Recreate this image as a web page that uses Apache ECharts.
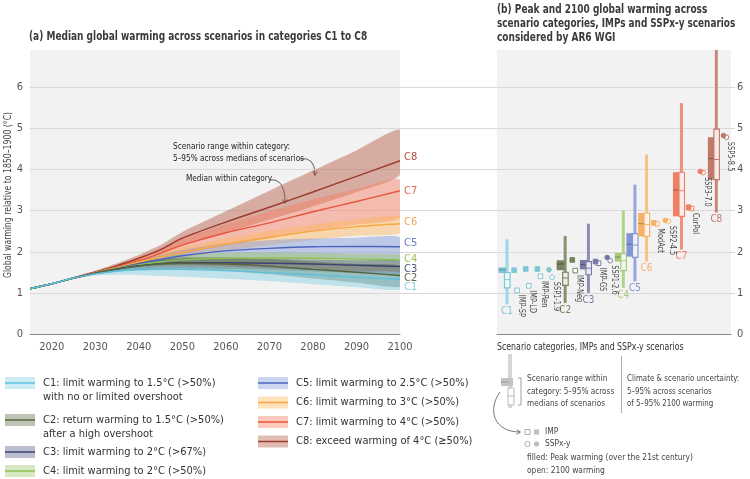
<!DOCTYPE html>
<html>
<head>
<meta charset="UTF-8">
<title>Global warming across scenario categories</title>
<script src="https://cdn.jsdelivr.net/npm/echarts@6/dist/echarts.min.js"></script>
<style>
  html, body { margin: 0; padding: 0; background: #fff; }
  #main { width: 750px; height: 479px; }
</style>
</head>
<body>
<div id="main"></div>
<script>
// ---- (a) median warming and 5-95% range per category ----
var years = [2015, 2020, 2025, 2030, 2035, 2040, 2045, 2050, 2060, 2070, 2080, 2090, 2100];
var categories = ['C1', 'C2', 'C3', 'C4', 'C5', 'C6', 'C7', 'C8'];

var medC1 = [1.10, 1.22, 1.36, 1.46, 1.53, 1.56, 1.57, 1.57, 1.54, 1.49, 1.44, 1.38, 1.33];
var loC1  = [1.10, 1.21, 1.34, 1.42, 1.44, 1.43, 1.41, 1.39, 1.34, 1.28, 1.21, 1.14, 1.08];
var hiC1  = [1.11, 1.23, 1.38, 1.50, 1.60, 1.65, 1.67, 1.67, 1.64, 1.60, 1.56, 1.52, 1.49];

var medC2 = [1.10, 1.22, 1.36, 1.48, 1.58, 1.65, 1.70, 1.72, 1.70, 1.65, 1.57, 1.50, 1.42];
var loC2  = [1.10, 1.21, 1.34, 1.44, 1.51, 1.56, 1.58, 1.58, 1.53, 1.45, 1.35, 1.25, 1.15];
var hiC2  = [1.11, 1.23, 1.38, 1.52, 1.65, 1.75, 1.82, 1.86, 1.86, 1.82, 1.76, 1.70, 1.65];

var medC3 = [1.10, 1.22, 1.36, 1.48, 1.58, 1.66, 1.71, 1.73, 1.73, 1.72, 1.70, 1.67, 1.64];
var loC3  = [1.10, 1.21, 1.34, 1.45, 1.52, 1.57, 1.59, 1.60, 1.58, 1.56, 1.52, 1.48, 1.45];
var hiC3  = [1.11, 1.23, 1.38, 1.51, 1.63, 1.74, 1.80, 1.83, 1.84, 1.83, 1.81, 1.79, 1.78];

var medC4 = [1.10, 1.22, 1.36, 1.48, 1.59, 1.68, 1.75, 1.80, 1.84, 1.85, 1.84, 1.82, 1.80];
var loC4  = [1.10, 1.21, 1.34, 1.45, 1.54, 1.61, 1.65, 1.68, 1.70, 1.69, 1.67, 1.65, 1.63];
var hiC4  = [1.11, 1.23, 1.38, 1.51, 1.64, 1.76, 1.86, 1.93, 1.97, 1.98, 1.97, 1.95, 1.92];

var medC5 = [1.10, 1.22, 1.36, 1.48, 1.60, 1.71, 1.81, 1.90, 2.02, 2.08, 2.12, 2.13, 2.12];
var loC5  = [1.10, 1.21, 1.34, 1.45, 1.55, 1.63, 1.70, 1.75, 1.82, 1.84, 1.84, 1.82, 1.80];
var hiC5  = [1.11, 1.23, 1.38, 1.51, 1.65, 1.79, 1.92, 2.04, 2.20, 2.28, 2.32, 2.34, 2.35];

var medC6 = [1.10, 1.22, 1.36, 1.49, 1.62, 1.75, 1.87, 1.98, 2.18, 2.35, 2.50, 2.61, 2.68];
var loC6  = [1.10, 1.21, 1.34, 1.46, 1.57, 1.67, 1.76, 1.85, 2.02, 2.16, 2.29, 2.39, 2.45];
var hiC6  = [1.11, 1.23, 1.38, 1.52, 1.67, 1.82, 1.96, 2.10, 2.32, 2.50, 2.66, 2.78, 2.86];

var medC7 = [1.10, 1.22, 1.36, 1.49, 1.63, 1.78, 1.96, 2.16, 2.46, 2.70, 2.97, 3.22, 3.48];
var loC7  = [1.10, 1.21, 1.34, 1.46, 1.57, 1.68, 1.80, 1.94, 2.15, 2.32, 2.50, 2.66, 2.82];
var hiC7  = [1.11, 1.23, 1.38, 1.52, 1.68, 1.87, 2.08, 2.32, 2.66, 2.98, 3.27, 3.52, 3.75];

var medC8 = [1.10, 1.22, 1.36, 1.50, 1.66, 1.84, 2.05, 2.33, 2.72, 3.08, 3.45, 3.83, 4.21];
var loC8  = [1.10, 1.21, 1.34, 1.47, 1.61, 1.78, 1.95, 2.16, 2.45, 2.78, 3.10, 3.45, 3.87];
var hiC8  = [1.11, 1.23, 1.38, 1.54, 1.72, 1.92, 2.16, 2.48, 2.98, 3.48, 3.97, 4.46, 4.96];

// ---- (b) peak and 2100 warming per category ----
var slots = ['C1', 'IMP-SP', 'IMP-LD', 'IMP-Ren', 'SSP1-1.9', 'C2', 'IMP-Neg', 'C3', 'IMP-GS', 'SSP1-2.6',
             'C4', 'C5', 'C6', 'ModAct', 'SSP2-4.5', 'C7', 'CurPol', 'SSP3-7.0', 'C8', 'SSP5-8.5'];
var rangeLo = [0.72, 0.75, 1.00, 1.12, 1.28, 1.76, 2.05, 2.95];
var rangeHi = [2.30, 2.38, 2.68, 3.00, 3.63, 4.36, 5.61, 6.90];
var peakLo  = [1.48, 1.55, 1.57, 1.76, 1.88, 2.37, 2.86, 3.75];
var peakMed = [1.56, 1.70, 1.69, 1.87, 2.18, 2.68, 3.50, 4.26];
var peakHi  = [1.62, 1.79, 1.80, 1.97, 2.45, 2.94, 3.93, 4.78];
var endLo   = [1.12, 1.18, 1.44, 1.54, 1.86, 2.37, 2.86, 3.75];
var endMed  = [1.32, 1.36, 1.60, 1.78, 2.16, 2.66, 3.48, 4.24];
var endHi   = [1.49, 1.50, 1.76, 1.95, 2.44, 2.94, 3.93, 4.98];

var scenarios    = ['IMP-SP', 'IMP-LD', 'IMP-Ren', 'SSP1-1.9', 'IMP-Neg', 'IMP-GS', 'SSP1-2.6', 'ModAct', 'SSP2-4.5', 'CurPol', 'SSP3-7.0', 'SSP5-8.5'];
var scenarioCat  = ['C1', 'C1', 'C1', 'C1', 'C2', 'C3', 'C3', 'C6', 'C6', 'C7', 'C7', 'C8'];
var scenarioPeak = [1.55, 1.58, 1.58, 1.56, 1.80, 1.76, 1.86, 2.70, 2.76, 3.08, 3.95, 4.82];
var scenario2100 = [1.06, 1.17, 1.40, 1.38, 1.54, 1.72, 1.78, 2.68, 2.74, 3.05, 3.92, 4.78];

var legendText = [
  'C1: limit warming to 1.5°C (>50%)\nwith no or limited overshoot',
  'C2: return warming to 1.5°C (>50%)\nafter a high overshoot',
  'C3: limit warming to 2°C (>67%)',
  'C4: limit warming to 2°C (>50%)',
  'C5: limit warming to 2.5°C (>50%)',
  'C6: limit warming to 3°C (>50%)',
  'C7: limit warming to 4°C (>50%)',
  'C8: exceed warming of 4°C (≥50%)'
];

// styles
var FONT = "'Liberation Sans Narrow', 'DejaVu Sans Condensed', 'Roboto', sans-serif";
var bandColor  = ['#80cee2', '#5c6a46', '#545c88', '#96c664', '#7890da', '#ffb458', '#f58062', '#b8604a'];
var bandAlpha  = [0.45, 0.45, 0.45, 0.45, 0.42, 0.45, 0.47, 0.47];
var lineColor  = ['#5cc0dc', '#56633f', '#3c4373', '#8cc152', '#4a64c0', '#f7a743', '#e8553f', '#9c3a2c'];
var labelColor = ['#86cde0', '#5f6b52', '#4d5377', '#9cc25e', '#6b7fc6', '#f2a65a', '#e5645a', '#b04a3e'];
var labelShift = [8, 3, 3, -1, -4, -2, 0, -4];
var boxColor   = ['#7fc6d4', '#76815f', '#777ba3', '#a6c97b', '#8396d4', '#f7b26a', '#ec7f66', '#c0786a'];
var whiskColor = ['#9ad6e6', '#87926f', '#8a8db4', '#b3d38d', '#97a6dd', '#f9c184', '#f08f78', '#c9887a'];
var legendPos  = [[5, 383], [5, 420], [5, 452], [5, 471], [258, 383], [258, 402.5], [258, 422], [258, 441.5]];

var median = [medC1, medC2, medC3, medC4, medC5, medC6, medC7, medC8];
var lower  = [loC1, loC2, loC3, loC4, loC5, loC6, loC7, loC8];
var upper  = [hiC1, hiC2, hiC3, hiC4, hiC5, hiC6, hiC7, hiC8];

var myChart = echarts.init(document.getElementById('main'));

// text helper; sx squeezes the glyphs a little to mimic the condensed face of the original
function txt(x, y, text, size, color, weight, sx, extra) {
  var el = {
    type: 'text', x: x, y: y, silent: true, scaleX: sx || 1,
    style: {
      text: text, fill: color || '#333',
      font: (weight || 'normal') + ' ' + size + 'px ' + FONT,
      textAlign: 'left', textVerticalAlign: 'middle', align: 'left', verticalAlign: 'middle'
    }
  };
  if (extra) { for (var k in extra) { el[k] = extra[k]; } }
  return el;
}

var series = [];

// 5-95% bands as polygons: upper edge forward, lower edge back
series.push({
  type: 'custom', xAxisIndex: 0, yAxisIndex: 0, silent: true, clip: true, z: 2,
  data: [7, 6, 5, 4, 3, 2, 1, 0].map(function (i) { return [i]; }),
  renderItem: function (params, api) {
    var i = api.value(0);
    var pts = [];
    for (var k = 0; k < years.length; k++) { pts.push(api.coord([years[k], upper[i][k]])); }
    for (var m = years.length - 1; m >= 0; m--) { pts.push(api.coord([years[m], lower[i][m]])); }
    return {
      type: 'polygon',
      shape: { points: pts, smooth: 0.2 },
      style: { fill: bandColor[i], opacity: bandAlpha[i] }
    };
  }
});

for (var j = categories.length - 1; j >= 0; j--) {
  series.push({
    type: 'line', name: categories[j], xAxisIndex: 0, yAxisIndex: 0, silent: true,
    symbol: 'none', smooth: 0.3, z: 3,
    lineStyle: { color: lineColor[j], width: 1.4 },
    endLabel: {
      show: true, formatter: categories[j], color: labelColor[j], fontSize: 11,
      fontFamily: FONT, distance: 4, offset: [0, labelShift[j]]
    },
    data: years.map(function (y, k) { return [y, median[j][k]]; })
  });
}

function renderBox(params, api) {
  var i = params.dataIndex;
  var x = api.value(0);
  var y = function (k) { return api.coord([x, api.value(k)])[1]; };
  var cx = api.coord([x, 0])[0];
  var col = boxColor[i];
  return {
    type: 'group',
    children: [
      { type: 'line', shape: { x1: cx, y1: y(2), x2: cx, y2: y(1) }, style: { stroke: whiskColor[i], lineWidth: 3 } },
      { type: 'rect', shape: { x: cx - 8.5, y: y(5), width: 7.5, height: y(3) - y(5) }, style: { fill: col } },
      { type: 'line', shape: { x1: cx - 8.5, y1: y(4), x2: cx - 1, y2: y(4) }, style: { stroke: 'rgba(0,0,0,0.3)', lineWidth: 1 } },
      { type: 'rect', shape: { x: cx - 2.5, y: y(8), width: 5.5, height: y(6) - y(8) }, style: { fill: 'rgba(255,255,255,0.82)', stroke: col, lineWidth: 1.2 } },
      { type: 'line', shape: { x1: cx - 2.5, y1: y(7), x2: cx + 3, y2: y(7) }, style: { stroke: col, lineWidth: 1 } },
      {
        type: 'text', x: cx, y: y(1) + 1.5, scaleX: 0.9,
        style: {
          text: categories[i], fill: col, font: '11px ' + FONT,
          textAlign: 'center', textVerticalAlign: 'top', align: 'center', verticalAlign: 'top'
        }
      }
    ]
  };
}

function renderScenario(params, api) {
  var i = params.dataIndex;
  var p = api.coord([api.value(0), api.value(1)]);
  var e = api.coord([api.value(0), api.value(2)]);
  var col = boxColor[categories.indexOf(scenarioCat[i])];
  var round = scenarios[i].indexOf('SSP') === 0;
  var fx = p[0] - 4.5, ox = e[0] - 1.5;
  function mark(mx, my, filled) {
    var st = { fill: filled ? col : '#fff', stroke: col, lineWidth: 1 };
    return round
      ? { type: 'circle', shape: { cx: mx, cy: my, r: 2.3 }, style: st }
      : { type: 'rect', shape: { x: mx - 2.3, y: my - 2.3, width: 4.6, height: 4.6 }, style: st };
  }
  return {
    type: 'group',
    children: [
      mark(ox, e[1], false),
      mark(fx, p[1], true),
      {
        type: 'text', x: ox + 4, y: e[1] + 4.5, rotation: -Math.PI / 2, scaleX: 0.82,
        style: {
          text: scenarios[i], fill: '#444', font: '9px ' + FONT,
          textAlign: 'left', textVerticalAlign: 'middle', align: 'left', verticalAlign: 'middle'
        }
      }
    ]
  };
}

series.push({
  type: 'custom', xAxisIndex: 1, yAxisIndex: 1, silent: true, z: 3,
  renderItem: renderBox,
  data: categories.map(function (c, i) {
    return [slots.indexOf(c), rangeLo[i], rangeHi[i], peakLo[i], peakMed[i], peakHi[i], endLo[i], endMed[i], endHi[i]];
  })
});
series.push({
  type: 'custom', xAxisIndex: 1, yAxisIndex: 1, silent: true, z: 4,
  renderItem: renderScenario,
  data: scenarios.map(function (s, i) { return [slots.indexOf(s), scenarioPeak[i], scenario2100[i]]; })
});

// graphic: titles, annotations, legends
var graphics = [
  txt(29, 37, '(a) Median global warming across scenarios in categories C1 to C8', 12.5, '#3a3a3a', 'bold', 0.8),
  txt(497, 10, '(b) Peak and 2100 global warming across', 12.5, '#3a3a3a', 'bold', 0.8),
  txt(497, 24, 'scenario categories, IMPs and SSPx-y scenarios', 12.5, '#3a3a3a', 'bold', 0.79),
  txt(497, 38, 'considered by AR6 WGI', 12.5, '#3a3a3a', 'bold', 0.8),
  txt(8, 195, 'Global warming relative to 1850–1900 (°C)', 10.5, '#444', 'normal', 0.82,
      { rotation: Math.PI / 2, style: { text: 'Global warming relative to 1850–1900 (°C)', fill: '#444', font: '10.5px ' + FONT,
        textAlign: 'center', textVerticalAlign: 'middle', align: 'center', verticalAlign: 'middle' } }),
  txt(173, 147, 'Scenario range within category:', 9.5, '#222', 'normal', 0.86),
  txt(173, 159, '5–95% across medians of scenarios', 9.5, '#222', 'normal', 0.86),
  txt(186, 179, 'Median within category', 9.5, '#222', 'normal', 0.86),
  { type: 'bezierCurve', silent: true, shape: { x1: 300, y1: 159, cpx1: 315, cpy1: 156, x2: 315, y2: 175 }, style: { stroke: '#333', lineWidth: 0.8, fill: null } },
  { type: 'polyline', silent: true, shape: { points: [[312.6, 171.5], [315, 175.5], [317.2, 171.3]] }, style: { stroke: '#333', lineWidth: 0.8, fill: null } },
  { type: 'bezierCurve', silent: true, shape: { x1: 270, y1: 180, cpx1: 285, cpy1: 178, x2: 285, y2: 203 }, style: { stroke: '#333', lineWidth: 0.8, fill: null } },
  { type: 'polyline', silent: true, shape: { points: [[282.6, 199.5], [285, 203.5], [287.2, 199.3]] }, style: { stroke: '#333', lineWidth: 0.8, fill: null } },
  txt(497, 347, 'Scenario categories, IMPs and SSPx-y scenarios', 10.5, '#333', 'normal', 0.83),
  // small key for panel (b)
  { type: 'line', silent: true, shape: { x1: 510, y1: 354, x2: 510, y2: 408 }, style: { stroke: '#d6d6d6', lineWidth: 4 } },
  { type: 'rect', silent: true, shape: { x: 501, y: 378, width: 12, height: 8 }, style: { fill: '#c4c4c4' } },
  { type: 'line', silent: true, shape: { x1: 501, y1: 382, x2: 509, y2: 382 }, style: { stroke: '#999', lineWidth: 1 } },
  { type: 'rect', silent: true, shape: { x: 508, y: 388, width: 6, height: 17 }, style: { fill: '#fff', stroke: '#bbb', lineWidth: 1 } },
  { type: 'line', silent: true, shape: { x1: 508, y1: 396, x2: 514, y2: 396 }, style: { stroke: '#bbb', lineWidth: 1 } },
  { type: 'polyline', silent: true, shape: { points: [[518, 378], [521, 378], [521, 405], [518, 405]] }, style: { stroke: '#888', lineWidth: 0.8, fill: null } },
  txt(527, 379, 'Scenario range within', 9.5, '#444', 'normal', 0.86),
  txt(527, 392, 'category: 5–95% across', 9.5, '#444', 'normal', 0.86),
  txt(527, 404, 'medians of scenarios', 9.5, '#444', 'normal', 0.86),
  { type: 'line', silent: true, shape: { x1: 621.5, y1: 356, x2: 621.5, y2: 413 }, style: { stroke: '#999', lineWidth: 0.8 } },
  txt(627, 379, 'Climate & scenario uncertainty:', 9.5, '#444', 'normal', 0.83),
  txt(627, 392, '5–95% across scenarios', 9.5, '#444', 'normal', 0.83),
  txt(627, 404, 'of 5–95% 2100 warming', 9.5, '#444', 'normal', 0.83),
  { type: 'bezierCurve', silent: true, shape: { x1: 500, y1: 392, cpx1: 487, cpy1: 410, cpx2: 494, cpy2: 432, x2: 520, y2: 432 }, style: { stroke: '#555', lineWidth: 0.8, fill: null } },
  { type: 'polyline', silent: true, shape: { points: [[516.5, 429.6], [520.5, 432], [516.5, 434.4]] }, style: { stroke: '#555', lineWidth: 0.8, fill: null } },
  { type: 'rect', silent: true, shape: { x: 525, y: 429.5, width: 5, height: 5 }, style: { fill: '#fff', stroke: '#aaa', lineWidth: 1 } },
  { type: 'rect', silent: true, shape: { x: 534, y: 429.5, width: 5, height: 5 }, style: { fill: '#bbb' } },
  txt(545, 432, 'IMP', 9.5, '#444', 'normal', 0.88),
  { type: 'circle', silent: true, shape: { cx: 527.5, cy: 444, r: 2.6 }, style: { fill: '#fff', stroke: '#aaa', lineWidth: 1 } },
  { type: 'circle', silent: true, shape: { cx: 536.5, cy: 444, r: 2.6 }, style: { fill: '#bbb' } },
  txt(545, 444, 'SSPx-y', 9.5, '#444', 'normal', 0.88),
  txt(527, 458, 'filled: Peak warming (over the 21st century)', 9.5, '#444', 'normal', 0.88),
  txt(527, 471, 'open: 2100 warming', 9.5, '#444', 'normal', 0.88)
];

// category legend
categories.forEach(function (c, i) {
  var lx = legendPos[i][0], ly = legendPos[i][1];
  graphics.push({ type: 'rect', silent: true, shape: { x: lx, y: ly - 6, width: 30, height: 12 }, style: { fill: bandColor[i], opacity: bandAlpha[i] - 0.05 } });
  graphics.push({ type: 'line', silent: true, shape: { x1: lx, y1: ly, x2: lx + 30, y2: ly }, style: { stroke: lineColor[i], lineWidth: 1.5 } });
  graphics.push({
    type: 'text', x: lx + 38, y: ly - 7.5, silent: true,
    style: {
      text: legendText[i], fill: '#333', font: '11px ' + FONT, lineHeight: 14.5,
      textAlign: 'left', textVerticalAlign: 'top', align: 'left', verticalAlign: 'top'
    }
  });
});

var axisText = { color: '#555', fontSize: 11, fontFamily: FONT };

var option = {
  animation: false,
  backgroundColor: '#fff',
  grid: [
    { left: 30, top: 50, width: 370, height: 284, show: true, backgroundColor: '#f2f2f2', borderWidth: 0, outerBoundsMode: 'none' },
    { left: 497, top: 50, width: 234, height: 284, show: true, backgroundColor: '#f2f2f2', borderWidth: 0, outerBoundsMode: 'none' },
    { left: 30, top: 87, width: 705, height: 206, show: false, outerBoundsMode: 'none' }
  ],
  xAxis: [
    {
      gridIndex: 0, type: 'value', min: 2015, max: 2100, interval: 5,
      axisLine: { show: true, lineStyle: { color: '#8a8a8a', width: 1 } },
      axisTick: { show: false }, splitLine: { show: false },
      axisLabel: Object.assign({ margin: 8, formatter: function (v) { return v % 10 === 0 ? String(v) : ''; } }, axisText)
    },
    {
      gridIndex: 1, type: 'value', min: -0.86, max: 19.26,
      axisLine: { show: true, lineStyle: { color: '#8a8a8a', width: 1 } },
      axisTick: { show: false }, splitLine: { show: false }, axisLabel: { show: false }
    },
    { gridIndex: 2, type: 'value', min: 0, max: 1, show: false }
  ],
  yAxis: [
    {
      gridIndex: 0, type: 'value', min: 0, max: 6.9, interval: 1,
      axisLine: { show: false }, axisTick: { show: false }, splitLine: { show: false },
      axisLabel: Object.assign({ margin: 7, showMaxLabel: false }, axisText)
    },
    {
      gridIndex: 1, type: 'value', position: 'right', min: 0, max: 6.9, interval: 1,
      axisLine: { show: false }, axisTick: { show: false }, splitLine: { show: false },
      axisLabel: Object.assign({ margin: 6, showMaxLabel: false }, axisText)
    },
    {
      gridIndex: 2, type: 'value', min: 1, max: 6, interval: 1,
      axisLine: { show: false }, axisTick: { show: false }, axisLabel: { show: false },
      splitLine: { show: true, lineStyle: { color: '#d9d9d9', width: 1 } }
    }
  ],
  graphic: graphics,
  series: series
};

myChart.setOption(option);
</script>
</body>
</html>
